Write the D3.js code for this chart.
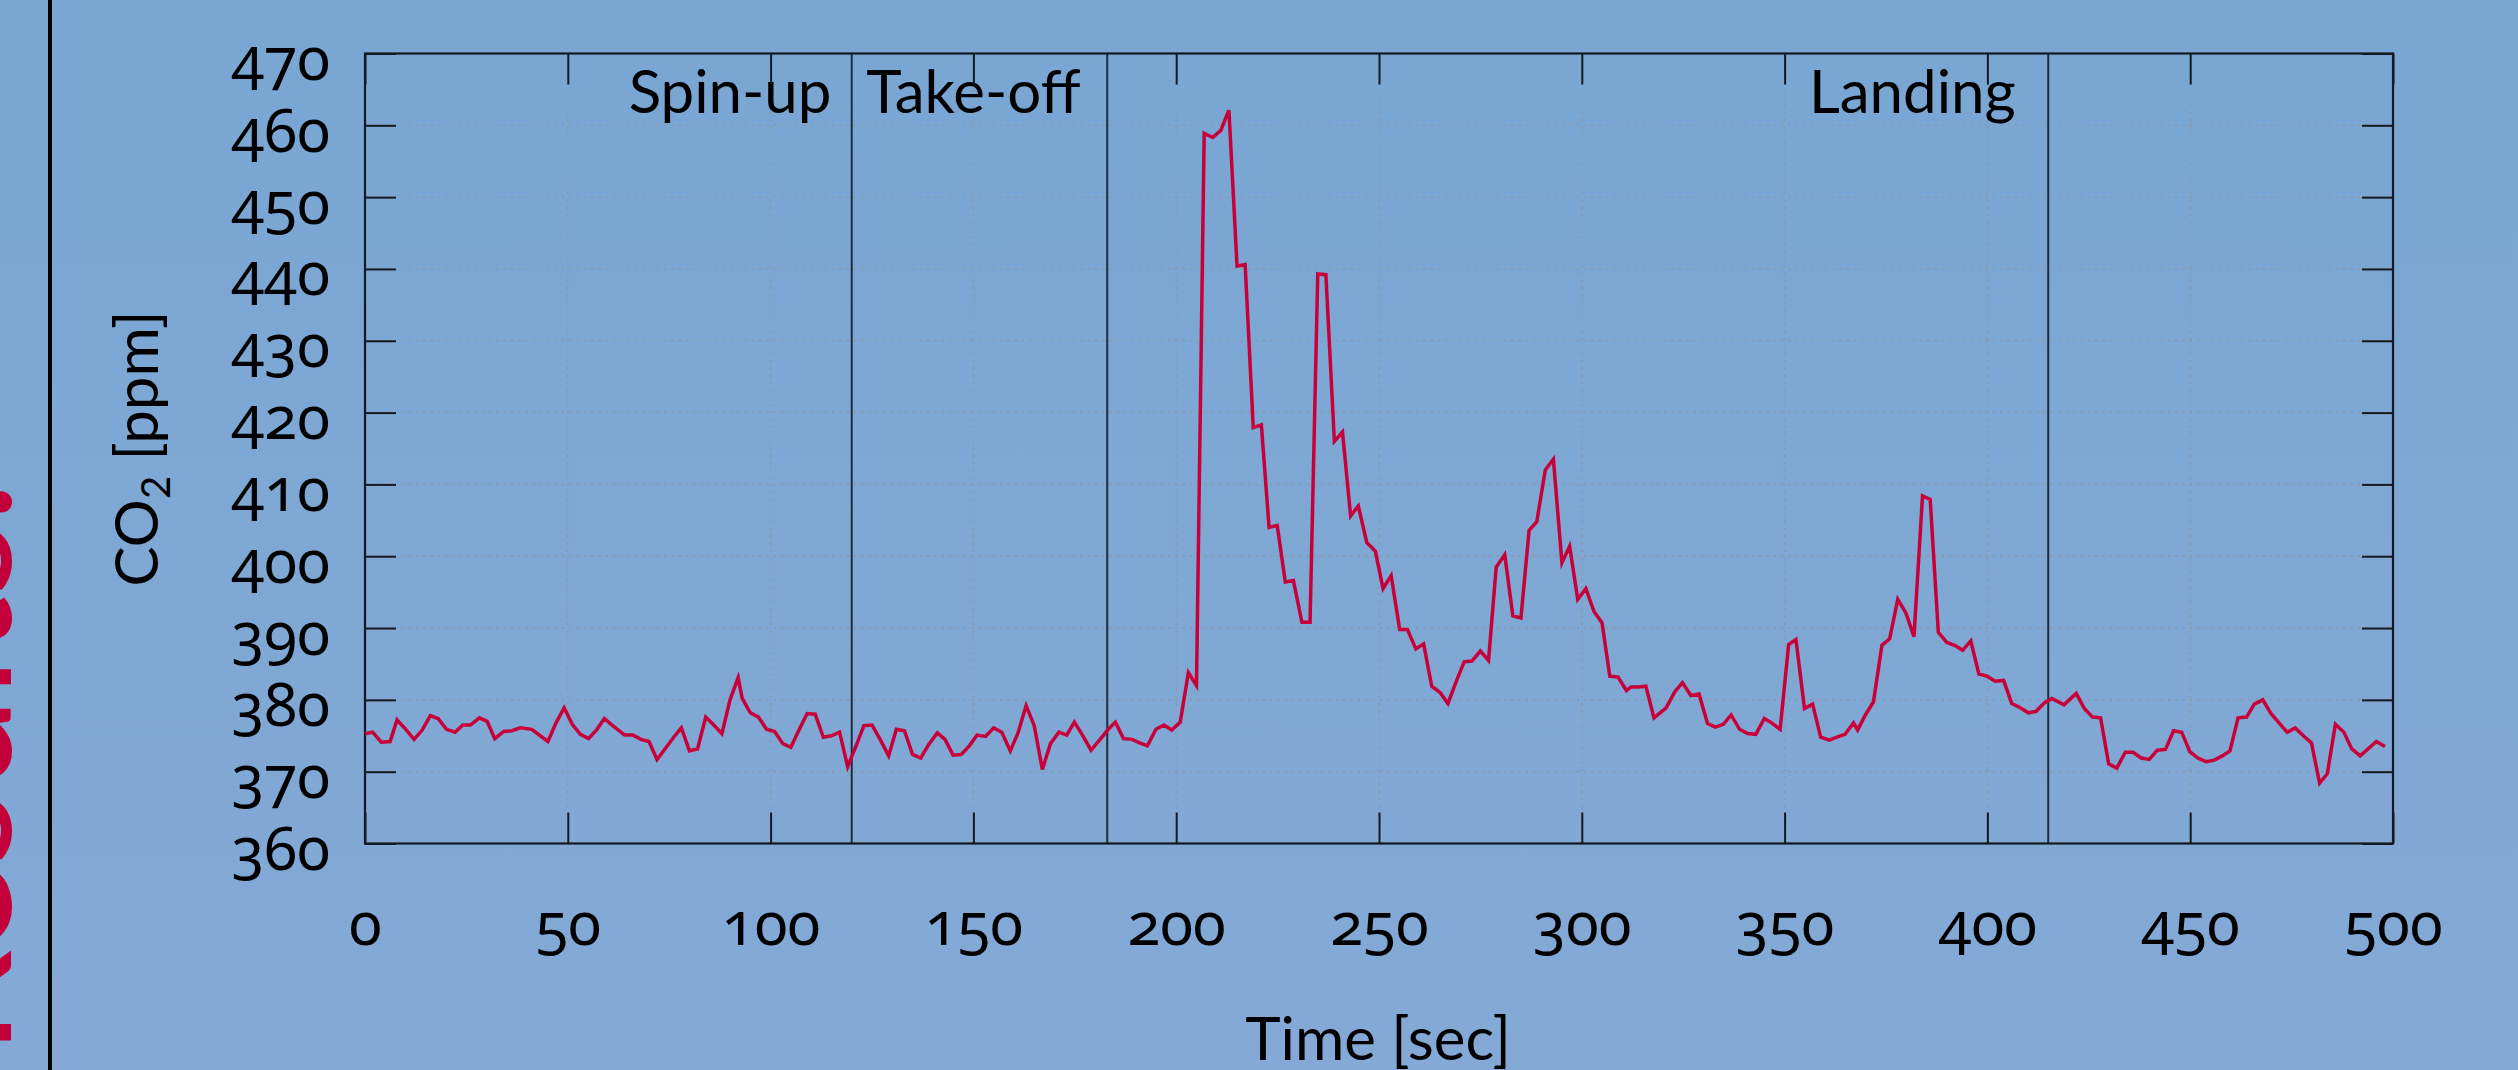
<!DOCTYPE html>
<html>
<head>
<meta charset="utf-8">
<script src="https://cdn.jsdelivr.net/npm/d3@7"></script>
<style>
  body { margin: 0; overflow: hidden; }
  svg text { font-family: Lato, "Noto Sans", sans-serif; fill: #000; }
  svg .tick text { font-family: "Noto Sans", Lato, sans-serif; font-variant-numeric: oldstyle-nums; font-feature-settings: "onum" 1; }
</style>
</head>
<body>
<script>
// flight CO2 log
const times = [
  0, 1.9, 4, 6.2, 7.9, 9.9, 12.1, 14.1, 16.1, 18, 20.1, 22.2, 24.1, 26, 28.2, 30.1, 32, 34.2, 36.2, 38.3,
  41.1, 45.1, 47.1, 49.1, 51.1, 53.1, 55.1, 57.2, 59, 61.3, 64, 66, 68, 70, 72, 74, 76.1, 78, 80, 82,
  84, 86, 88, 90, 92, 93, 95, 97, 99, 101, 103, 105, 107, 109, 111, 113, 115, 117, 119, 121,
  123, 125, 127, 129.1, 131, 133, 135, 137, 139, 141.1, 143, 145, 147, 149, 150.9, 153, 155, 157, 159.1, 161,
  163, 165, 167, 169, 171.1, 173, 174.9, 177, 179, 181.1, 183.1, 185, 187, 189.1, 191, 192.9, 195, 197, 198.9, 201,
  203, 205, 206.9, 209, 211, 213, 215, 217, 219, 221, 222.9, 224.9, 226.9, 228.9, 231, 233, 234.9, 236.9, 239, 241,
  243, 244.9, 247, 249.1, 251, 253, 255.1, 257, 259.1, 261, 263, 265.1, 267, 269, 271, 272.9, 275, 277, 278.9, 281,
  283, 285, 287, 288.9, 291, 293, 295.1, 297, 299, 301, 303, 305, 306.9, 308.9, 311, 312.1, 313.9, 315.8, 317.8, 320.8,
  322.9, 324.8, 326.9, 328.9, 331, 332.9, 334.9, 336.8, 338.9, 340.9, 342.9, 345, 346.8, 348.9, 351, 352.8, 354.9, 356.9, 358.9, 361,
  362.9, 364.9, 367, 368, 369.9, 371.9, 374, 375.9, 377.9, 379.9, 381.9, 384, 385.9, 387.9, 390, 391.9, 393.9, 395.9, 397.9, 399.9,
  401.9, 404, 406, 408.1, 410.1, 412, 414.1, 415.9, 418.9, 421.9, 423.9, 425.9, 427.9, 429.9, 431.9, 434, 435.9, 437.9, 439.9, 441.9,
  443.9, 445.9, 447.9, 449.9, 451.9, 453.9, 455.9, 457.9, 459.8, 461.8, 463.9, 465.8, 467.9, 469.9, 471.9, 473.9, 475.9, 477.9, 479.9, 481.9,
  483.8, 485.8, 487.9, 489.8, 491.9, 493.9, 495.9, 498
];
const co2 = [
  375.3, 375.5, 374.1, 374.2, 377.2, 376.0, 374.5, 375.8, 377.8, 377.4, 375.9, 375.5, 376.5, 376.5, 377.5, 377.0, 374.6, 375.6, 375.7, 376.1,
  375.9, 374.2, 376.8, 378.9, 376.6, 375.2, 374.6, 375.9, 377.4, 376.3, 375.1, 375.1, 374.5, 374.2, 371.7, 373.2, 374.8, 376.1, 372.9, 373.2,
  377.6, 376.5, 375.3, 380.0, 383.1, 380.2, 378.2, 377.6, 375.9, 375.6, 373.9, 373.4, 375.8, 378.1, 378.0, 374.8, 375.0, 375.5, 370.7, 373.5,
  376.4, 376.5, 374.5, 372.2, 375.9, 375.7, 372.4, 371.9, 373.8, 375.4, 374.5, 372.3, 372.4, 373.6, 375.1, 374.9, 376.1, 375.5, 372.9, 375.4,
  379.2, 376.4, 370.3, 373.9, 375.5, 375.1, 376.9, 375.0, 373.0, 374.4, 375.8, 376.9, 374.6, 374.5, 374.0, 373.6, 375.9, 376.5, 375.8, 376.9,
  383.8, 382.0, 458.9, 458.3, 459.3, 462.1, 440.4, 440.6, 417.9, 418.3, 404.0, 404.3, 396.4, 396.6, 390.8, 390.8, 439.3, 439.2, 416.0, 417.3,
  405.6, 407.0, 401.9, 400.7, 395.5, 397.3, 389.8, 389.8, 387.1, 387.8, 381.9, 381.0, 379.5, 382.5, 385.3, 385.4, 386.8, 385.5, 398.5, 400.2,
  391.7, 391.4, 403.6, 404.8, 412.0, 413.5, 399.1, 401.4, 394.0, 395.5, 392.3, 390.7, 383.3, 383.2, 381.3, 381.8, 381.8, 381.9, 377.5, 378.9,
  381.1, 382.4, 380.6, 380.8, 376.7, 376.2, 376.6, 377.9, 375.9, 375.3, 375.2, 377.4, 376.8, 375.9, 387.7, 388.4, 378.8, 379.4, 374.8, 374.4,
  374.8, 375.2, 376.8, 375.8, 377.9, 379.7, 387.6, 388.5, 394.0, 392.1, 388.8, 408.4, 407.9, 389.4, 388.0, 387.6, 386.9, 388.2, 383.6, 383.3,
  382.6, 382.7, 379.5, 378.9, 378.2, 378.4, 379.6, 380.2, 379.3, 380.9, 378.8, 377.6, 377.5, 371.1, 370.5, 372.7, 372.7, 371.9, 371.7, 373.0,
  373.1, 375.7, 375.5, 372.8, 371.9, 371.4, 371.6, 372.2, 372.9, 377.5, 377.6, 379.4, 380.0, 378.1, 376.8, 375.5, 376.1, 375.0, 374.0, 368.4,
  369.7, 376.6, 375.5, 373.2, 372.2, 373.2, 374.2, 373.5
];

const yTicks = [360, 370, 380, 390, 400, 410, 420, 430, 440, 450, 460, 470];
const xTicks = [0, 50, 100, 150, 200, 250, 300, 350, 400, 450, 500];

const phaseLines = [120, 183, 415];
const phaseNames = ["Spin-up", "Take-off", "Landing"];
const phaseCenters = [90, 150, 381.5];

const W = 2518, H = 1070;
const margin = { top: 53.5, right: 125, bottom: 226.5, left: 365 },
      width = W - margin.left - margin.right,
      height = H - margin.top - margin.bottom;

const root = d3.select("body").append("svg")
  .attr("width", W)
  .attr("height", H);

const grad = root.append("defs").append("linearGradient")
  .attr("id", "bg").attr("x1", 0).attr("y1", 0).attr("x2", 0).attr("y2", 1);
grad.append("stop").attr("offset", "0%").attr("stop-color", "#79a6d3");
grad.append("stop").attr("offset", "100%").attr("stop-color", "#84a9d6");

root.append("rect").attr("width", W).attr("height", H).attr("fill", "url(#bg)");

// slide decoration on the left edge (title mostly off-screen)
root.append("line")
  .attr("x1", 50).attr("x2", 50).attr("y1", 0).attr("y2", H)
  .attr("stroke", "#000").attr("stroke-width", 4);
root.append("text")
  .attr("transform", "translate(11,482) rotate(-90)")
  .attr("text-anchor", "end")
  .style("font-size", "170px")
  .style("fill", "#c4003a")
  .text("Results.");

const svg = root.append("g")
  .attr("transform", `translate(${margin.left},${margin.top})`);

const x = d3.scaleLinear().domain([0, 500]).range([0, width]);
const y = d3.scaleLinear().domain([360, 470]).range([height, 0]);

// dotted grid
svg.append("g")
  .selectAll("line")
  .data(yTicks)
  .enter().append("line")
  .attr("x1", 0).attr("x2", width)
  .attr("y1", d => y(d)).attr("y2", d => y(d))
  .attr("stroke", "#8e96a0").attr("stroke-width", 1.5)
  .attr("stroke-dasharray", "2,5.3");

svg.append("g")
  .selectAll("line")
  .data(xTicks)
  .enter().append("line")
  .attr("x1", d => x(d)).attr("x2", d => x(d))
  .attr("y1", 0).attr("y2", height)
  .attr("stroke", "#8e96a0").attr("stroke-width", 1.5)
  .attr("stroke-dasharray", "2,5.3");

// phase separators
svg.append("g")
  .selectAll("line")
  .data(phaseLines)
  .enter().append("line")
  .attr("x1", d => x(d)).attr("x2", d => x(d))
  .attr("y1", 0).attr("y2", height)
  .attr("stroke", "#1e2c3a").attr("stroke-width", 2);

svg.append("g")
  .selectAll("text")
  .data(phaseNames)
  .enter().append("text")
  .attr("x", (d, i) => x(phaseCenters[i]))
  .attr("y", 59)
  .attr("text-anchor", "middle")
  .style("font-size", "60px")
  .text(d => d);

// axes, ticks pointing inward
const axLeft = svg.append("g")
  .call(d3.axisLeft(y).tickValues(yTicks).tickSize(-31).tickSizeOuter(0).tickPadding(35));
const axRight = svg.append("g")
  .attr("transform", `translate(${width},0)`)
  .call(d3.axisRight(y).tickValues(yTicks).tickSize(-31).tickSizeOuter(0).tickFormat(""));
const axBottom = svg.append("g")
  .attr("transform", `translate(0,${height})`)
  .call(d3.axisBottom(x).tickValues(xTicks).tickSize(-31).tickSizeOuter(0).tickPadding(70));
const axTop = svg.append("g")
  .call(d3.axisTop(x).tickValues(xTicks).tickSize(-31).tickSizeOuter(0).tickFormat(""));

[axLeft, axRight, axBottom, axTop].forEach(g => {
  g.attr("font-family", null).attr("font-size", null);
  g.select(".domain").remove();
  g.selectAll(".tick line").attr("stroke", "#151a20").attr("stroke-width", 2);
  g.selectAll("text").style("font-size", "60px").attr("fill", "#000");
});
axLeft.selectAll("text").attr("dy", null).attr("y", 26);
axBottom.selectAll("text").attr("dy", null).attr("y", 101);

// frame
svg.append("rect")
  .attr("width", width).attr("height", height)
  .attr("fill", "none").attr("stroke", "#151a20").attr("stroke-width", 2.2);

// CO2 trace
const points = times.map((t, i) => [t, co2[i]]);
svg.append("path")
  .datum(points)
  .attr("fill", "none")
  .attr("stroke", "#c8003a")
  .attr("stroke-width", 3.5)
  .attr("d", d3.line().x(d => x(d[0])).y(d => y(d[1])));

// axis titles
const yTitle = svg.append("text")
  .attr("transform", `translate(${158 - margin.left},${height / 2}) rotate(-90)`)
  .attr("text-anchor", "middle")
  .style("font-size", "60px");
yTitle.append("tspan").text("CO");
yTitle.append("tspan").attr("dy", 12).style("font-size", "40px").text("2");
yTitle.append("tspan").attr("dy", -12).text(" [ppm]");

svg.append("text")
  .attr("x", 1378 - margin.left)
  .attr("y", 1060 - margin.top)
  .attr("text-anchor", "middle")
  .style("font-size", "60px")
  .text("Time [sec]");
</script>
</body>
</html>
